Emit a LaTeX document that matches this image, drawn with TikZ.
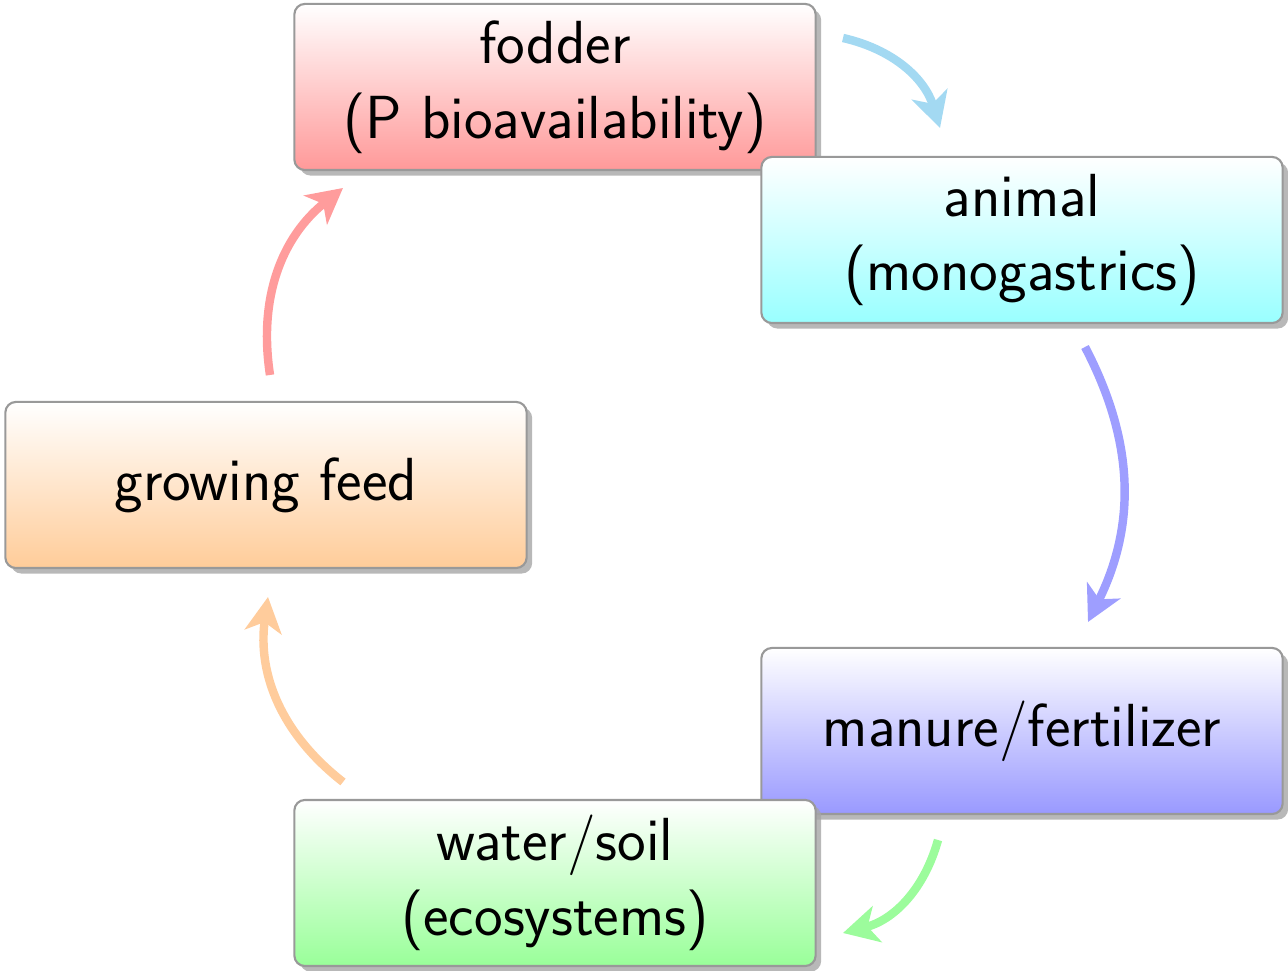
\documentclass[tikz,border=0pt]{standalone}
\usetikzlibrary{shadows,arrows.meta}
\definecolor{arrA}{HTML}{A3D9F2}
\definecolor{arrB}{HTML}{9E9EFF}
\definecolor{arrC}{HTML}{9CFC9C}
\definecolor{arrD}{HTML}{FFCC9C}
\definecolor{arrE}{HTML}{FF9C9C}
\tikzset{
  module/.style={draw=black!40, line width=0.6pt, rounded corners=3pt,
    minimum width=5.21cm, minimum height=1.66cm, align=center,
    font=\sffamily\fontsize{17.3}{21.3}\selectfont, text=black,
    drop shadow={shadow xshift=0.55mm, shadow yshift=-0.55mm, fill=black!35, opacity=0.8}},
  arr/.style={line width=2.4pt, -{Stealth[length=10pt,width=10.5pt,inset=2.8pt]}, bend left=30}
}
\begin{document}
\begin{tikzpicture}[x=0.01cm,y=-0.01cm]
\useasboundingbox (0,0) rectangle (1288,971);
\node[module, top color=white, bottom color=red!40] (fodder) at (555,87) {fodder\\(P bioavailability)};
\node[module, top color=white, bottom color=cyan!40] (animal) at (1022,240) {animal\\(monogastrics)};
\node[module, top color=white, bottom color=orange!40] (feed) at (266,485) {growing feed};
\node[module, top color=white, bottom color=blue!40] (manure) at (1022,731) {manure/fertilizer};
\node[module, top color=white, bottom color=green!40] (water) at (555,883) {water/soil\\(ecosystems)};
\coordinate (a1s) at (843,38);  \coordinate (a1e) at (940,128);
\coordinate (a2s) at (1085,347); \coordinate (a2e) at (1088,622);
\coordinate (a3s) at (938,840);  \coordinate (a3e) at (843,933);
\coordinate (a4s) at (343,782);  \coordinate (a4e) at (268,597);
\coordinate (a5s) at (270,375);  \coordinate (a5e) at (343,188);
\draw[arr, arrA] (a1s) to (a1e);
\draw[arr, arrB] (a2s) to[bend left=27] (a2e);
\draw[arr, arrC] (a3s) to (a3e);
\draw[arr, arrD] (a4s) to (a4e);
\draw[arr, arrE] (a5s) to (a5e);
\end{tikzpicture}
\end{document}
